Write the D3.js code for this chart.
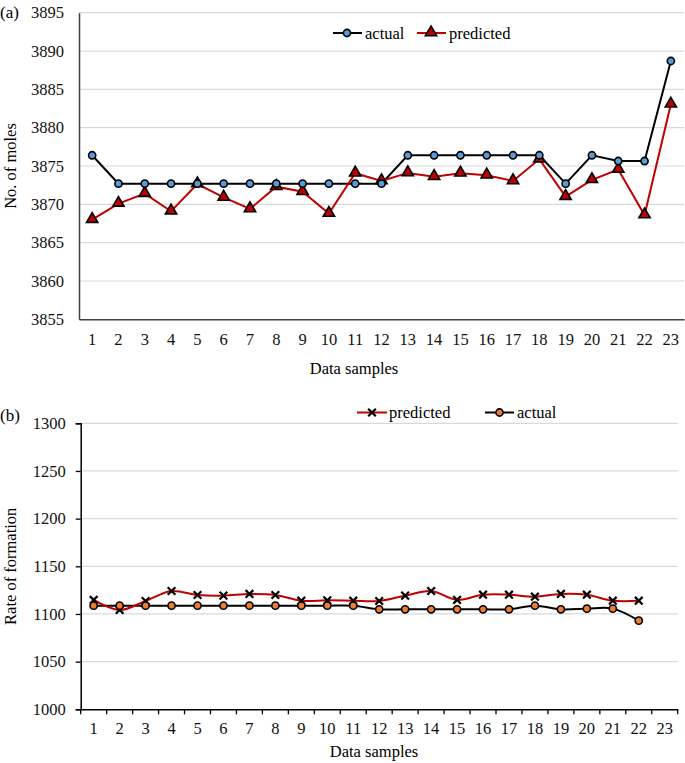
<!DOCTYPE html>
<html><head><meta charset="utf-8">
<script src="https://cdn.jsdelivr.net/npm/d3@7"></script>
<style>
body{margin:0;background:#fff;}
svg{display:block;font-family:"Liberation Serif","Times New Roman",serif;}
</style></head>
<body><svg id="c" width="685" height="763"></svg>
<script>
const samplesA = d3.range(1, 24).map(String);
const actualA = [3876.4,3872.7,3872.7,3872.7,3872.7,3872.7,3872.7,3872.7,3872.7,3872.7,3872.7,3872.7,3876.4,3876.4,3876.4,3876.4,3876.4,3876.4,3872.7,3876.4,3875.65,3875.65,3888.7];
const predictedA = [3868.0,3870.1,3871.4,3869.1,3872.65,3870.9,3869.4,3872.3,3871.65,3868.8,3874.05,3873.05,3874.1,3873.6,3874.05,3873.8,3873.05,3875.9,3871.0,3873.2,3874.55,3868.6,3883.05];
const yTicksA = [3855,3860,3865,3870,3875,3880,3885,3890,3895];

const samplesB = d3.range(1, 24).map(String);
const predictedB = [1114.7,1104.2,1113.6,1124.1,1119.9,1119.2,1121,1119.9,1113.9,1114.3,1113.9,1113.6,1119.2,1124.1,1114.7,1120.2,1120.2,1118.1,1121,1120.2,1113.9,1113.9];
const actualB = [1108.7,1108.7,1108.7,1108.7,1108.7,1108.7,1108.7,1108.7,1108.7,1108.7,1108.7,1104.9,1104.9,1104.9,1104.9,1104.9,1104.9,1108.7,1104.9,1105.6,1105.6,1093];
const yTicksB = [1000,1050,1100,1150,1200,1250,1300];

const svg = d3.select("#c");
const RED = "#C00000", BLUE = "#5B9BD5", ORANGE = "#ED7D31", GRID = "#d9d9d9";

// ---------- Chart (a) ----------
{
  const L = 79, R = 684, T = 12.7, B = 319.3;
  const x = d3.scaleBand().domain(samplesA).range([L, R]);
  const y = d3.scaleLinear().domain([3855, 3895]).range([B, T]);
  const g = svg.append("g");
  g.selectAll("line.grid").data(yTicksA.filter(v => v > 3855)).join("line")
    .attr("x1", L).attr("x2", R).attr("y1", d => y(d)).attr("y2", d => y(d))
    .attr("stroke", GRID).attr("stroke-width", 1.2);
  const ya = g.append("g").attr("transform", `translate(${L},0)`)
    .call(d3.axisLeft(y).tickValues(yTicksA).tickSize(0).tickPadding(15).tickFormat(d3.format("d")));
  ya.select(".domain").attr("stroke", "#404040").attr("stroke-width", 1.5);
  ya.selectAll("text").attr("font-size", 16.5).attr("fill", "#111").attr("font-family", "Liberation Serif");
  const xa = g.append("g").attr("transform", `translate(0,${B})`)
    .call(d3.axisBottom(x).tickSize(0).tickPadding(14));
  xa.select(".domain").attr("stroke", "#404040").attr("stroke-width", 1.5);
  xa.selectAll("text").attr("font-size", 16.5).attr("fill", "#111").attr("font-family", "Liberation Serif");
  const cx = d => x(d) + x.bandwidth() / 2;
  const line = vals => d3.line().x((d, i) => cx(samplesA[i])).y(d => y(d))(vals);
  g.append("path").attr("d", line(actualA)).attr("fill", "none").attr("stroke", "#000").attr("stroke-width", 2);
  g.append("path").attr("d", line(predictedA)).attr("fill", "none").attr("stroke", RED).attr("stroke-width", 2);
  const tri = d3.symbol().type(d3.symbolTriangle).size(55);
  g.selectAll("path.tri").data(predictedA).join("path")
    .attr("d", tri).attr("transform", (d, i) => `translate(${cx(samplesA[i])},${y(d) - 0.5})`)
    .attr("fill", RED).attr("stroke", "#000").attr("stroke-width", 1.6);
  g.selectAll("circle.act").data(actualA).join("circle")
    .attr("cx", (d, i) => cx(samplesA[i])).attr("cy", d => y(d)).attr("r", 3.6)
    .attr("fill", BLUE).attr("stroke", "#000").attr("stroke-width", 1.6);
  // titles
  svg.append("text").attr("x", 0).attr("y", 18).attr("font-size", 17).text("(a)");
  svg.append("text").attr("transform", `translate(16,${(T + B) / 2}) rotate(-90)`)
    .attr("text-anchor", "middle").attr("font-size", 16.5).text("No. of moles");
  svg.append("text").attr("x", 354).attr("y", 374).attr("text-anchor", "middle")
    .attr("font-size", 16.5).text("Data samples");
  // legend
  const lg = svg.append("g");
  lg.append("line").attr("x1", 333).attr("x2", 362).attr("y1", 33).attr("y2", 33).attr("stroke", "#000").attr("stroke-width", 2);
  lg.append("circle").attr("cx", 347).attr("cy", 33).attr("r", 3.6).attr("fill", BLUE).attr("stroke", "#000").attr("stroke-width", 1.6);
  lg.append("text").attr("x", 365).attr("y", 38.5).attr("font-size", 16.5).text("actual");
  lg.append("line").attr("x1", 417).attr("x2", 446).attr("y1", 33).attr("y2", 33).attr("stroke", RED).attr("stroke-width", 2);
  lg.append("path").attr("d", tri).attr("transform", "translate(431,32.5)").attr("fill", RED).attr("stroke", "#000").attr("stroke-width", 1.6);
  lg.append("text").attr("x", 449).attr("y", 38.5).attr("font-size", 16.5).text("predicted");
}

// ---------- Chart (b) ----------
{
  const L = 80.7, R = 677.7, T = 423.3, B = 709.3;
  const x = d3.scaleBand().domain(samplesB).range([L, R]);
  const y = d3.scaleLinear().domain([1000, 1300]).range([B, T]);
  const g = svg.append("g");
  g.selectAll("line.grid").data(yTicksB.filter(v => v > 1000)).join("line")
    .attr("x1", L).attr("x2", R).attr("y1", d => y(d)).attr("y2", d => y(d))
    .attr("stroke", GRID).attr("stroke-width", 1.2);
  const ya = g.append("g").attr("transform", `translate(${L},0)`)
    .call(d3.axisLeft(y).tickValues(yTicksB).tickSize(5).tickPadding(10).tickFormat(d3.format("d")));
  ya.select(".domain").attr("stroke", "#000").attr("stroke-width", 1.5);
  ya.selectAll(".tick line").attr("stroke", "#000").attr("stroke-width", 1.3);
  ya.selectAll("text").attr("font-size", 16.5).attr("fill", "#111").attr("font-family", "Liberation Serif");
  const xa = g.append("g").attr("transform", `translate(0,${B})`)
    .call(d3.axisBottom(x).tickSize(0).tickPadding(13));
  xa.select(".domain").attr("stroke", "#000").attr("stroke-width", 1.5);
  xa.selectAll("text").attr("font-size", 16.5).attr("fill", "#111").attr("font-family", "Liberation Serif");
  // boundary ticks
  const bounds = samplesB.map(s => x(s)).concat([R]);
  xa.selectAll("line.bt").data(bounds).join("line").attr("class", "bt")
    .attr("x1", d => d).attr("x2", d => d).attr("y1", 0).attr("y2", 5)
    .attr("stroke", "#000").attr("stroke-width", 1.3);
  const cx = d => x(d) + x.bandwidth() / 2;
  const line = vals => d3.line().curve(d3.curveCatmullRom.alpha(0.5)).x((d, i) => cx(samplesB[i])).y(d => y(d))(vals);
  g.append("path").attr("d", line(actualB)).attr("fill", "none").attr("stroke", "#000").attr("stroke-width", 2);
  g.append("path").attr("d", line(predictedB)).attr("fill", "none").attr("stroke", RED).attr("stroke-width", 2);
  const xsym = d3.symbol().type(d3.symbolTimes).size(40);
  g.selectAll("path.xm").data(predictedB).join("path")
    .attr("d", xsym).attr("transform", (d, i) => `translate(${cx(samplesB[i])},${y(d)})`)
    .attr("fill", "none").attr("stroke", "#000").attr("stroke-width", 2.2);
  g.selectAll("circle.act").data(actualB).join("circle")
    .attr("cx", (d, i) => cx(samplesB[i])).attr("cy", d => y(d)).attr("r", 3.6)
    .attr("fill", ORANGE).attr("stroke", "#000").attr("stroke-width", 1.6);
  svg.append("text").attr("x", 0).attr("y", 421).attr("font-size", 17).text("(b)");
  svg.append("text").attr("transform", `translate(16,${(T + B) / 2}) rotate(-90)`)
    .attr("text-anchor", "middle").attr("font-size", 16.5).text("Rate of formation");
  svg.append("text").attr("x", 374).attr("y", 757).attr("text-anchor", "middle")
    .attr("font-size", 16.5).text("Data samples");
  const lg = svg.append("g");
  lg.append("line").attr("x1", 357).attr("x2", 387).attr("y1", 412.5).attr("y2", 412.5).attr("stroke", RED).attr("stroke-width", 2);
  lg.append("path").attr("d", xsym).attr("transform", "translate(372,412.5)").attr("fill", "none").attr("stroke", "#000").attr("stroke-width", 2.2);
  lg.append("text").attr("x", 389).attr("y", 418).attr("font-size", 16.5).text("predicted");
  lg.append("line").attr("x1", 485).attr("x2", 514).attr("y1", 412.5).attr("y2", 412.5).attr("stroke", "#000").attr("stroke-width", 2);
  lg.append("circle").attr("cx", 499.5).attr("cy", 412.5).attr("r", 3.6).attr("fill", ORANGE).attr("stroke", "#000").attr("stroke-width", 1.6);
  lg.append("text").attr("x", 517).attr("y", 418).attr("font-size", 16.5).text("actual");
}
</script></body></html>
